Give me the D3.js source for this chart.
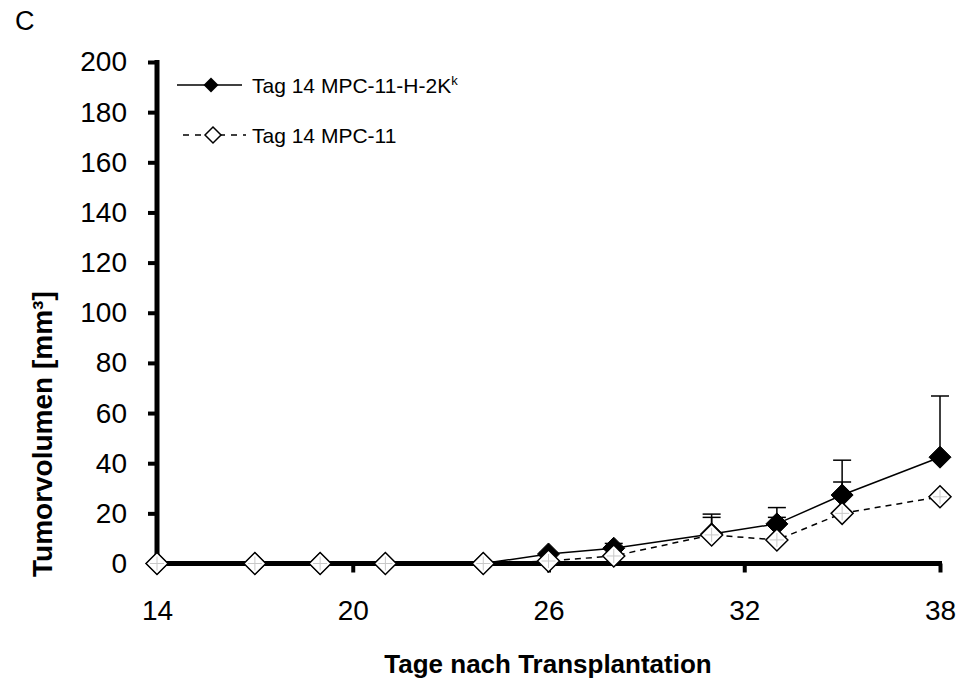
<!DOCTYPE html>
<html>
<head>
<meta charset="utf-8">
<script src="https://cdn.jsdelivr.net/npm/d3@7"></script>
<style>
  html, body { margin: 0; padding: 0; background: #fff; }
  svg { display: block; font-family: "Liberation Sans", Arial, sans-serif; }
</style>
</head>
<body>
<svg id="chart" width="957" height="678"></svg>
<script>
// ---- data ----
const days = [14, 17, 19, 21, 24, 26, 28, 31, 33, 35, 38];
const filledMean = [0, 0, 0, 0, 0, 3.8, 6.1, 11.8, 15.8, 27.3, 42.4];
const filledSD   = [0, 0, 0, 0, 0, 0.6, 1.9, 7.9, 6.5, 13.9, 24.4];
const openMean   = [0, 0, 0, 0, 0, 1.0, 3.0, 11.4, 9.4, 20.0, 26.6];
const openSD     = [0, 0, 0, 0, 0, 0, 0, 7.0, 9.0, 12.5, 0];
const xTicks = [14, 20, 26, 32, 38];
const yTicks = [0, 20, 40, 60, 80, 100, 120, 140, 160, 180, 200];
const legendLabels = ["Tag 14 MPC-11-H-2K", "Tag 14 MPC-11"];
const xTitle = "Tage nach Transplantation";
const yTitle = "Tumorvolumen [mm³]";
const panelLabel = "C";

const svg = d3.select("#chart");
const x = d3.scaleLinear().domain([14, 38]).range([157, 940]);
const y = d3.scaleLinear().domain([0, 200]).range([563.5, 62]);

// panel label
svg.append("text").attr("x", 15).attr("y", 30).attr("font-size", 27).text(panelLabel);

// axes
const yAxis = svg.append("g").attr("transform", "translate(157,0)")
  .call(d3.axisLeft(y).tickValues(yTicks).tickSize(9).tickPadding(21).tickSizeOuter(0));
yAxis.select(".domain").attr("stroke", "#000").attr("stroke-width", 5)
  .attr("d", `M0,${y(200)-2}V${y(0)}`);
yAxis.selectAll(".tick line").attr("stroke", "#000").attr("stroke-width", 4);
yAxis.selectAll(".tick text").attr("font-size", 28).attr("fill", "#000")
  .attr("font-family", "Liberation Sans, Arial, sans-serif");

const xAxis = svg.append("g").attr("transform", `translate(0,${y(0)})`)
  .call(d3.axisBottom(x).tickValues(xTicks).tickSize(9).tickPadding(28).tickSizeOuter(0));
xAxis.select(".domain").attr("stroke", "#000").attr("stroke-width", 5)
  .attr("d", `M${x(14)-2},0H${x(38)+2}`);
xAxis.selectAll(".tick line").attr("stroke", "#000").attr("stroke-width", 4)
  .attr("y1", 0);
xAxis.selectAll(".tick text").attr("font-size", 28).attr("fill", "#000")
  .attr("font-family", "Liberation Sans, Arial, sans-serif");

// titles
svg.append("text").attr("x", 548).attr("y", 673).attr("text-anchor", "middle")
  .attr("font-size", 26).attr("font-weight", "bold").text(xTitle);
svg.append("text").attr("transform", "translate(52,577) rotate(-90)")
  .attr("text-anchor", "start").attr("font-size", 28).attr("font-weight", "bold")
  .text(yTitle);

const filled = days.map((d, i) => ({ d, m: filledMean[i], s: filledSD[i] }));
const open = days.map((d, i) => ({ d, m: openMean[i], s: openSD[i] }));

const line = d3.line().x(p => x(p.d)).y(p => y(p.m));
const diamond = (cx, cy, r) => `M${cx},${cy - r}L${cx + r},${cy}L${cx},${cy + r}L${cx - r},${cy}Z`;

function errorBars(data) {
  const g = svg.append("g");
  data.filter(p => p.s > 0).forEach(p => {
    g.append("line").attr("x1", x(p.d)).attr("x2", x(p.d))
      .attr("y1", y(p.m)).attr("y2", y(p.m + p.s)).attr("stroke", "#000").attr("stroke-width", 1.5);
    g.append("line").attr("x1", x(p.d) - 9).attr("x2", x(p.d) + 9)
      .attr("y1", y(p.m + p.s)).attr("y2", y(p.m + p.s)).attr("stroke", "#000").attr("stroke-width", 1.5);
  });
}
errorBars(filled);
errorBars(open);

// filled series
svg.append("path").datum(filled).attr("d", line).attr("fill", "none")
  .attr("stroke", "#000").attr("stroke-width", 1.5);
svg.append("g").selectAll("path").data(filled).join("path")
  .attr("d", p => diamond(x(p.d), y(p.m), 11)).attr("fill", "#000").attr("stroke", "#000");

// open series
svg.append("path").datum(open).attr("d", line).attr("fill", "none")
  .attr("stroke", "#000").attr("stroke-width", 1.5).attr("stroke-dasharray", "6,5");
const og = svg.append("g");
og.selectAll("path").data(open).join("path")
  .attr("d", p => diamond(x(p.d), y(p.m), 11)).attr("fill", "#fff")
  .attr("stroke", "#000").attr("stroke-width", 1.5);
og.selectAll("line.cv").data(open).join("line").attr("class", "cv")
  .attr("x1", p => x(p.d)).attr("x2", p => x(p.d))
  .attr("y1", p => y(p.m) - 7).attr("y2", p => y(p.m) + 7)
  .attr("stroke", "#c8c8c8").attr("stroke-width", 1);
og.selectAll("line.ch").data(open).join("line").attr("class", "ch")
  .attr("x1", p => x(p.d) - 7).attr("x2", p => x(p.d) + 7)
  .attr("y1", p => y(p.m)).attr("y2", p => y(p.m))
  .attr("stroke", "#c8c8c8").attr("stroke-width", 1);

// legend
const lg = svg.append("g");
lg.append("line").attr("x1", 177).attr("x2", 242).attr("y1", 85).attr("y2", 85)
  .attr("stroke", "#000").attr("stroke-width", 1.5);
lg.append("path").attr("d", diamond(211, 85, 7.5)).attr("fill", "#000");
const t1 = lg.append("text").attr("x", 252).attr("y", 93).attr("font-size", 21).text(legendLabels[0]);
t1.append("tspan").attr("dy", -8).attr("font-size", 13).text("k");

lg.append("line").attr("x1", 183).attr("x2", 246).attr("y1", 135).attr("y2", 135)
  .attr("stroke", "#000").attr("stroke-width", 1.5).attr("stroke-dasharray", "6,6");
lg.append("path").attr("d", diamond(213, 135, 8)).attr("fill", "#fff")
  .attr("stroke", "#000").attr("stroke-width", 1.5);
lg.append("text").attr("x", 252).attr("y", 143).attr("font-size", 21).text(legendLabels[1]);
</script>
</body>
</html>
